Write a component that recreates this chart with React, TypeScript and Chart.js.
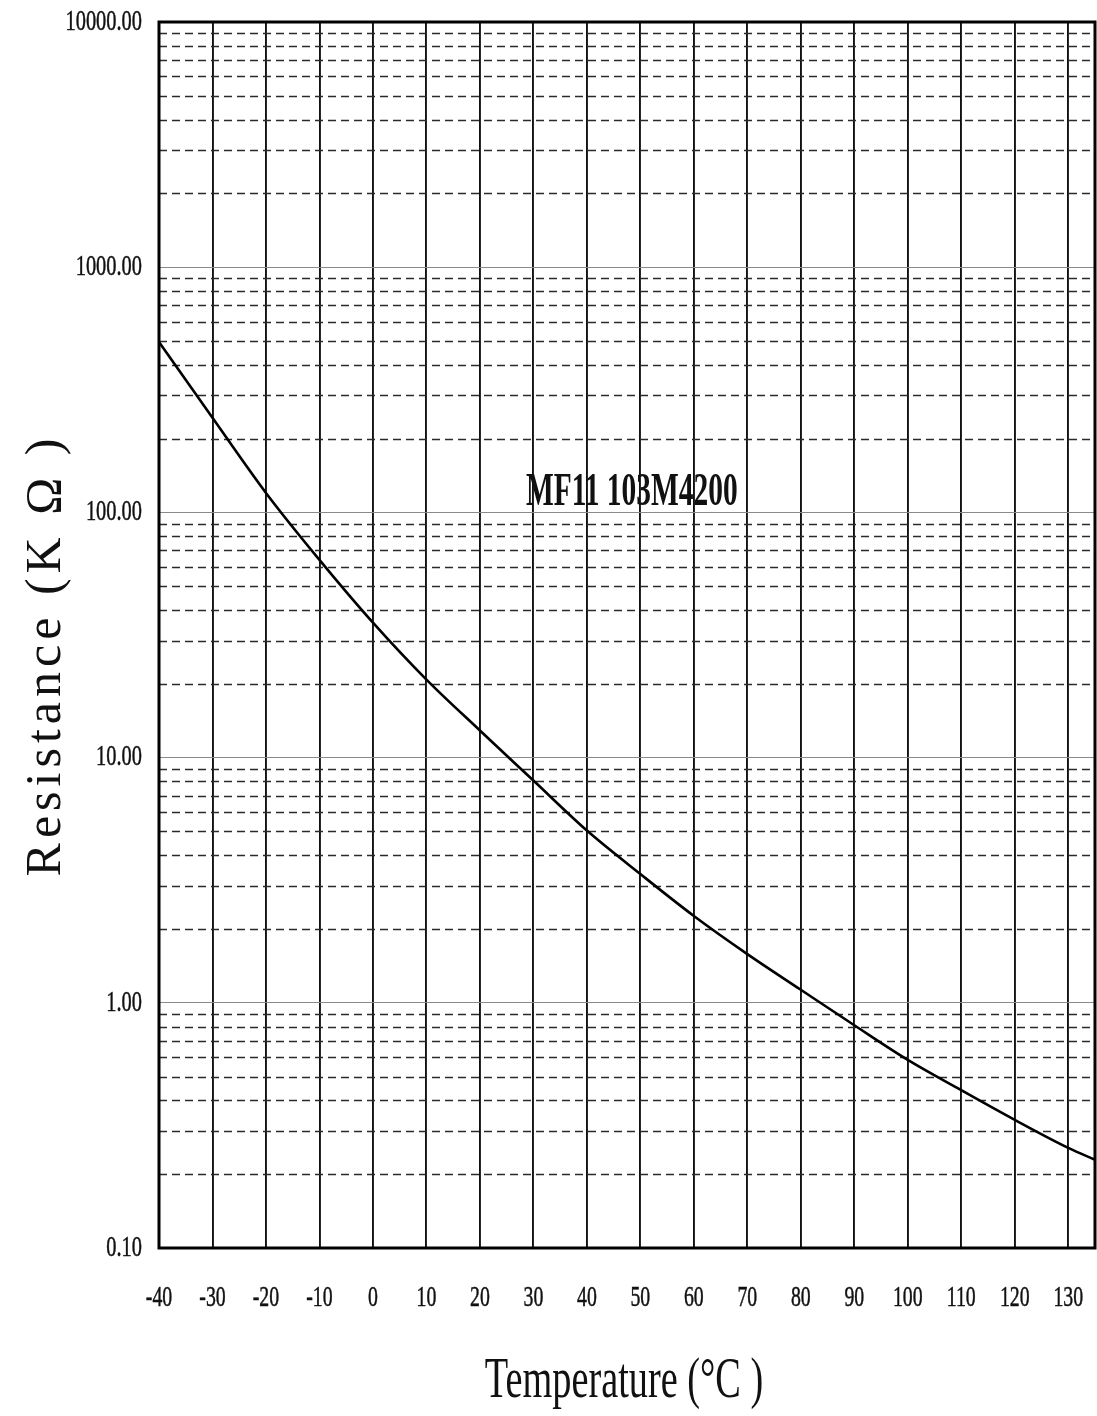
import React, { useEffect, useRef } from "react";
import { Chart, registerables } from "chart.js";

Chart.register(...registerables);

// ---- data ----
const TEMPERATURES = [-40, -30, -20, -10, 0, 10, 20, 30, 40, 50, 60, 70, 80, 90, 100, 110, 120, 130, 135];
const RESISTANCE_K = [495, 243, 120, 64, 35.5, 20.8, 12.9, 8.06, 5.04, 3.35, 2.26, 1.58, 1.13, 0.81, 0.585, 0.44, 0.333, 0.256, 0.229];

const X_TICKS = [-40, -30, -20, -10, 0, 10, 20, 30, 40, 50, 60, 70, 80, 90, 100, 110, 120, 130];
const X_TICK_LABELS = ["-40", "-30", "-20", "-10", "0", "10", "20", "30", "40", "50", "60", "70", "80", "90", "100", "110", "120", "130"];
const Y_TICKS = [0.1, 1, 10, 100, 1000, 10000];
const Y_TICK_LABELS = ["0.10", "1.00", "10.00", "100.00", "1000.00", "10000.00"];
const Y_MINOR_FACTORS = [2, 3, 4, 5, 6, 7, 8, 9];

const SERIES_LABEL = "MF11 103M4200";
const X_TITLE = "Temperature (°C )";
const Y_TITLE = "Resistance (K Ω )";

const SERIF = '"Liberation Serif", "Times New Roman", serif';

function drawText(
  ctx: CanvasRenderingContext2D,
  text: string,
  x: number,
  y: number,
  opts: { size: number; sx: number; align: CanvasTextAlign; baseline: CanvasTextBaseline; bold?: boolean; rotate?: number; spacing?: number; stroke?: number }
) {
  ctx.save();
  ctx.translate(x, y);
  if (opts.rotate) ctx.rotate(opts.rotate);
  ctx.scale(opts.sx, 1);
  ctx.font = `${opts.bold ? "bold " : ""}${opts.size}px ${SERIF}`;
  ctx.textAlign = opts.align;
  ctx.textBaseline = opts.baseline;
  (ctx as any).letterSpacing = `${opts.spacing || 0}px`;
  ctx.fillStyle = "#111";
  ctx.fillText(text, 0, 0);
  if (opts.stroke) {
    ctx.strokeStyle = "#111";
    ctx.lineWidth = opts.stroke;
    ctx.strokeText(text, 0, 0);
  }
  ctx.restore();
}

const decorPlugin = {
  id: "decor",
  beforeDatasetsDraw(chart: any) {
    const { ctx, chartArea } = chart;
    const y = chart.scales.y;
    ctx.save();
    ctx.beginPath();
    ctx.rect(chartArea.left, chartArea.top, chartArea.right - chartArea.left, chartArea.bottom - chartArea.top);
    ctx.clip();
    ctx.strokeStyle = "#2a2a2a";
    ctx.lineWidth = 1.3;
    ctx.setLineDash([8, 5]);
    for (let d = 0; d < Y_TICKS.length - 1; d++) {
      for (const f of Y_MINOR_FACTORS) {
        const py = Math.round(y.getPixelForValue(Y_TICKS[d] * f)) + 0.5;
        ctx.beginPath();
        ctx.moveTo(chartArea.left, py);
        ctx.lineTo(chartArea.right, py);
        ctx.stroke();
      }
    }
    ctx.restore();
  },
  afterDraw(chart: any) {
    const { ctx, chartArea } = chart;
    const xs = chart.scales.x;
    const ys = chart.scales.y;
    // frame
    ctx.save();
    ctx.strokeStyle = "#000";
    ctx.lineWidth = 3;
    ctx.strokeRect(chartArea.left, chartArea.top, chartArea.right - chartArea.left, chartArea.bottom - chartArea.top);
    ctx.restore();

    // y tick labels
    Y_TICKS.forEach((v, i) => {
      drawText(ctx, Y_TICK_LABELS[i], chartArea.left - 17, ys.getPixelForValue(v), {
        size: 30, sx: 0.68, align: "right", baseline: "middle", stroke: 0.5,
      });
    });
    // x tick labels
    X_TICKS.forEach((v, i) => {
      drawText(ctx, X_TICK_LABELS[i], xs.getPixelForValue(v), chartArea.bottom + 50, {
        size: 30, sx: 0.66, align: "center", baseline: "middle", stroke: 0.5,
      });
    });
    // x title
    drawText(ctx, X_TITLE, (chartArea.left + chartArea.right) / 2 - 3, 1397, {
      size: 58, sx: 0.66, align: "center", baseline: "alphabetic",
    });
    // y title
    drawText(ctx, Y_TITLE, 60, 655, {
      size: 50, sx: 1, align: "center", baseline: "alphabetic", rotate: -Math.PI / 2, spacing: 5,
    });
    // series annotation
    drawText(ctx, SERIES_LABEL, xs.getPixelForValue(48.4), ys.getPixelForValue(107), {
      size: 46, sx: 0.64, align: "center", baseline: "alphabetic", bold: true,
    });
  },
};

export default function App() {
  const ref = useRef<HTMLCanvasElement | null>(null);
  useEffect(() => {
    if (!ref.current) return;
    const chart = new Chart(ref.current, {
      type: "line",
      data: {
        datasets: [
          {
            label: SERIES_LABEL,
            data: TEMPERATURES.map((t, i) => ({ x: t, y: RESISTANCE_K[i] })),
            borderColor: "#000",
            borderWidth: 2.6,
            pointRadius: 0,
            fill: false,
            cubicInterpolationMode: "monotone",
          },
        ],
      },
      options: {
        responsive: false,
        animation: false,
        devicePixelRatio: 1,
        layout: { padding: { top: 22, right: 2, left: 0, bottom: 0 } },
        plugins: { legend: { display: false }, tooltip: { enabled: false }, title: { display: false } },
        scales: {
          x: {
            type: "linear",
            min: -40,
            max: 135,
            afterBuildTicks: (s: any) => {
              s.ticks = X_TICKS.map((v) => ({ value: v }));
            },
            afterFit: (s: any) => {
              s.height = 168;
            },
            ticks: { display: false },
            grid: { color: "#111", lineWidth: 1.9, drawTicks: false },
            border: { display: false },
          },
          y: {
            type: "logarithmic",
            min: 0.1,
            max: 10000,
            afterBuildTicks: (s: any) => {
              s.ticks = Y_TICKS.map((v) => ({ value: v }));
            },
            afterFit: (s: any) => {
              s.width = 159;
            },
            ticks: { display: false },
            grid: { color: "#8a8a8a", lineWidth: 1, drawTicks: false },
            border: { display: false },
          },
        },
      },
      plugins: [decorPlugin],
    } as any);
    return () => chart.destroy();
  }, []);
  return (
    <div style={{ position: "absolute", left: 0, top: 0, width: 1097, height: 1416, background: "#fff" }}>
      <canvas ref={ref} width={1097} height={1416} style={{ display: "block" }} />
    </div>
  );
}
